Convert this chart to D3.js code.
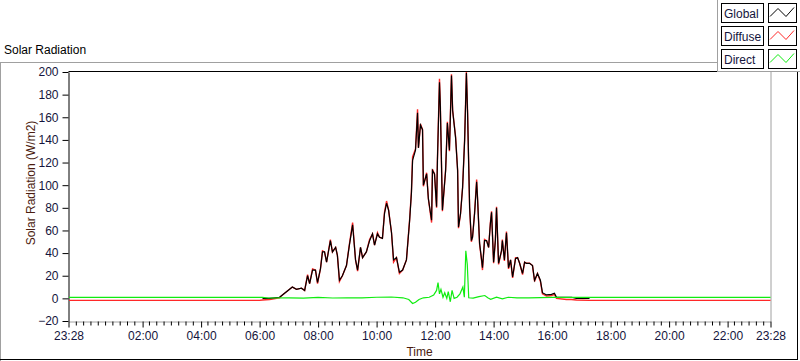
<!DOCTYPE html>
<html><head><meta charset="utf-8">
<script src="https://cdn.jsdelivr.net/npm/d3@7"></script>
<style>
body{margin:0;background:#fff;}
svg{display:block;font-family:"Liberation Sans",Arial,sans-serif;}
</style>
</head><body>
<svg id="c" width="800" height="361"></svg>
<script>
// ---- data (time in hours relative to midnight; 23:28 previous day = -0.5333) ----
const xTickHours = [-0.5333, 2, 4, 6, 8, 10, 12, 14, 16, 18, 20, 22, 23.4667];
const xTickLabels = ["23:28","02:00","04:00","06:00","08:00","10:00","12:00","14:00","16:00","18:00","20:00","22:00","23:28"];
const yTicks = [-20, 0, 20, 40, 60, 80, 100, 120, 140, 160, 180, 200];
const seriesNames = ["Global", "Diffuse", "Direct"];
const seriesColors = ["#000000", "#ff2828", "#10ec10"];

const globalTime = [6.10,6.34,6.68,6.78,7.12,7.26,7.43,7.54,7.64,7.71,7.81,7.91,7.98,8.08,8.15,8.22,8.29,8.42,8.49,8.60,8.66,8.73,8.83,8.97,9.07,9.18,9.28,9.35,9.45,9.52,9.65,9.76,9.86,9.93,10.03,10.10,10.20,10.27,10.34,10.41,10.51,10.58,10.68,10.78,10.89,11.02,11.13,11.19,11.23,11.33,11.40,11.43,11.50,11.57,11.60,11.71,11.77,11.88,11.91,11.98,12.05,12.08,12.15,12.18,12.25,12.36,12.42,12.49,12.56,12.60,12.70,12.77,12.80,12.87,12.94,13.01,13.07,13.11,13.18,13.24,13.28,13.35,13.42,13.45,13.52,13.59,13.62,13.69,13.76,13.83,13.89,13.93,14.00,14.06,14.10,14.17,14.27,14.30,14.37,14.44,14.51,14.58,14.65,14.75,14.82,14.89,14.99,15.06,15.12,15.23,15.33,15.40,15.50,15.60,15.67,15.81,15.98,16.08,16.15,16.49,16.66,16.83,17.28];
const globalValues = [0,0,1,3,10,8,9,7,20,13,25,25,14,26,41,41,32,51,41,45,38,16,20,29,47,65,34,25,45,36,41,51,57,47,57,54,53,75,84,78,58,34,36,23,25,34,69,93,122,131,164,133,153,149,100,110,88,69,113,110,81,122,191,169,78,113,155,131,197,166,142,113,63,75,98,140,199,164,81,51,54,75,103,89,49,34,27,51,51,45,66,76,32,51,80,31,42,51,34,58,27,34,19,35,36,31,22,32,31,31,29,16,22,16,5,3,3.5,4.5,1,1,1,0,0];

const diffuseTime = [-0.5333,6.00,6.10,6.34,6.68,6.78,7.12,7.26,7.43,7.54,7.64,7.71,7.81,7.91,7.98,8.08,8.15,8.22,8.29,8.42,8.49,8.60,8.66,8.73,8.83,8.97,9.07,9.18,9.28,9.35,9.45,9.52,9.65,9.76,9.86,9.93,10.03,10.10,10.20,10.27,10.34,10.41,10.51,10.58,10.68,10.78,10.89,11.02,11.13,11.19,11.23,11.33,11.40,11.43,11.50,11.57,11.60,11.71,11.77,11.88,11.91,11.98,12.05,12.08,12.15,12.18,12.25,12.36,12.42,12.49,12.56,12.60,12.70,12.77,12.80,12.87,12.94,13.01,13.07,13.11,13.18,13.24,13.28,13.35,13.42,13.45,13.52,13.59,13.62,13.69,13.76,13.83,13.89,13.93,14.00,14.06,14.10,14.17,14.27,14.30,14.37,14.44,14.51,14.58,14.65,14.75,14.82,14.89,14.99,15.06,15.12,15.23,15.33,15.40,15.50,15.60,15.67,15.81,15.98,16.08,16.15,16.49,16.66,16.83,17.28,23.4667];
const diffuseValues = [-1.8,-1.8,-1.5,-1,0.5,3,10,8,9,7,21,13,26,25,13,26,42,41,32,52,41,45,38,15,20,29,48,67,34,24,45,36,41,52,57,47,58,54,53,76,86,78,58,32,36,22,25,34,70,94,125,132,167,133,154,149,99,111,88,67,114,110,80,123,194,169,77,114,156,130,198,166,143,113,62,75,98,141,200,165,80,50,54,76,105,89,48,33,25,52,51,45,67,77,31,51,81,30,42,52,33,59,26,34,18,36,36,31,21,32,31,31,29,15,22,15,4,2,2.5,3.5,0,-1,-1,-1.5,-1.8,-1.8];

const directTime = [-0.5333,6.10,6.30,7.00,7.50,8.00,8.50,9.00,9.50,10.00,10.50,10.90,11.10,11.23,11.33,11.45,11.60,11.80,11.95,12.05,12.10,12.15,12.20,12.27,12.33,12.40,12.45,12.52,12.58,12.65,12.75,12.85,12.95,13.00,13.05,13.10,13.15,13.30,13.50,13.70,13.80,13.90,14.10,14.30,14.50,14.80,15.20,15.60,16.00,23.4667];
const directValues = [0.8,0.8,0.3,0.5,0.2,0.8,0.3,0.5,0.4,1.0,1.2,0.5,-1,-4.5,-3.5,-1,0.5,1,3,7,14,4,8,1,5,0,6,-3,7,0,1,4,10,1,42,30,0.5,0.2,1.5,2.5,0.5,-0.8,1,-0.5,1,0.5,0.5,0.7,0.8,0.8];

// ---- layout ----
const svg = d3.select("#c");
const L = 68.5, R = 770.5, T = 72, B = 321;
const x = d3.scaleLinear().domain([xTickHours[0], xTickHours[xTickHours.length-1]]).range([L, R]);
const y = d3.scaleLinear().domain([-20, 200]).range([B, T]);
const tickColor = "#14143c";
const titleColor = "#4b1c0f";

// outer frame
svg.append("line").attr("x1",0).attr("x2",717).attr("y1",62.5).attr("y2",62.5).attr("stroke","#a0a0a0");
svg.append("line").attr("x1",0.5).attr("x2",0.5).attr("y1",62).attr("y2",361).attr("stroke","#a0a0a0");
svg.append("line").attr("x1",797.5).attr("x2",797.5).attr("y1",72).attr("y2",360).attr("stroke","#000");
svg.append("line").attr("x1",0).attr("x2",798).attr("y1",359.5).attr("y2",359.5).attr("stroke","#000");

svg.append("text").attr("x",4).attr("y",54).attr("font-size",12).attr("fill","#000").text("Solar Radiation");

// plot frame
svg.append("line").attr("x1",L).attr("x2",717).attr("y1",71.5).attr("y2",71.5).attr("stroke","#000");
svg.append("line").attr("x1",771).attr("x2",771).attr("y1",71).attr("y2",B+0.5).attr("stroke","#a0a0a0");

// x axis
const xAxis = svg.append("g").attr("transform",`translate(0,${B+0.5})`)
  .call(d3.axisBottom(x).tickValues(xTickHours).tickFormat((d,i)=>xTickLabels[i]).tickSize(6).tickPadding(4).tickSizeOuter(0));
xAxis.select(".domain").attr("stroke","#a0a0a0");
xAxis.selectAll(".tick line").attr("stroke","#000");
xAxis.selectAll("text").attr("font-size",12).attr("fill",tickColor);
const minor = [];
for (let t = xTickHours[0] + 0.25; t < xTickHours[xTickHours.length-1]; t += 0.25) {
  if (xTickHours.every(m => Math.abs(x(m) - x(t)) > 3)) minor.push(t);
}
const xMinor = svg.append("g").attr("transform",`translate(0,${B+0.5})`)
  .call(d3.axisBottom(x).tickValues(minor).tickFormat("").tickSize(4).tickSizeOuter(0));
xMinor.select(".domain").remove();
xMinor.selectAll(".tick line").attr("stroke","#000");

// y axis
const yAxis = svg.append("g").attr("transform",`translate(${L},0)`)
  .call(d3.axisLeft(y).tickValues(yTicks).tickSize(6).tickPadding(4).tickSizeOuter(0));
yAxis.select(".domain").attr("stroke","#000");
yAxis.selectAll(".tick line").attr("stroke","#000");
yAxis.selectAll("text").attr("font-size",12).attr("fill",tickColor);

svg.append("text").attr("x",(L+R)/2).attr("y",356).attr("text-anchor","middle")
  .attr("font-size",12).attr("fill",titleColor).text("Time");
svg.append("text").attr("transform","translate(35,183) rotate(-90)").attr("text-anchor","middle")
  .attr("font-size",12).attr("fill",titleColor).text("Solar Radiation (W/m2)");

// plot lines
svg.append("clipPath").attr("id","clip").append("rect").attr("x",L+0.5).attr("y",T).attr("width",R-L).attr("height",B-T);
const g = svg.append("g").attr("clip-path","url(#clip)");
const line = d3.line().x(d=>x(d[0])).y(d=>y(d[1]));
const mk = (ts, vs) => ts.map((t,i)=>[t, vs[i]]);
g.append("path").datum(mk(diffuseTime, diffuseValues)).attr("d",line)
  .attr("fill","none").attr("stroke",seriesColors[1]).attr("stroke-width",1.4);
g.append("path").datum(mk(globalTime, globalValues)).attr("d",line)
  .attr("fill","none").attr("stroke",seriesColors[0]).attr("stroke-width",1.2);
g.append("path").datum(mk(directTime, directValues)).attr("d",line)
  .attr("fill","none").attr("stroke",seriesColors[2]).attr("stroke-width",1.2);

// legend
const lg = svg.append("g");
lg.append("rect").attr("x",717.5).attr("y",-1).attr("width",90).attr("height",72.5).attr("fill","#fff").attr("stroke","#a0a0a0");
const rowsY = [3.5, 26.5, 49.5];
seriesNames.forEach((name, i) => {
  const ry = rowsY[i];
  lg.append("rect").attr("x",721.5).attr("y",ry).attr("width",42).attr("height",19).attr("fill","#fff").attr("stroke","#000");
  lg.append("text").attr("x",724).attr("y",ry+14).attr("font-size",12).attr("fill",tickColor).text(name);
  lg.append("rect").attr("x",768.5).attr("y",ry).attr("width",28).attr("height",19).attr("fill","#fff").attr("stroke","#000");
  lg.append("path").attr("d",`M${770},${ry+13} L${778},${ry+5} L${786},${ry+13} L${794},${ry+4}`)
    .attr("fill","none").attr("stroke",seriesColors[i]).attr("stroke-width",1);
});
</script>
</body></html>
